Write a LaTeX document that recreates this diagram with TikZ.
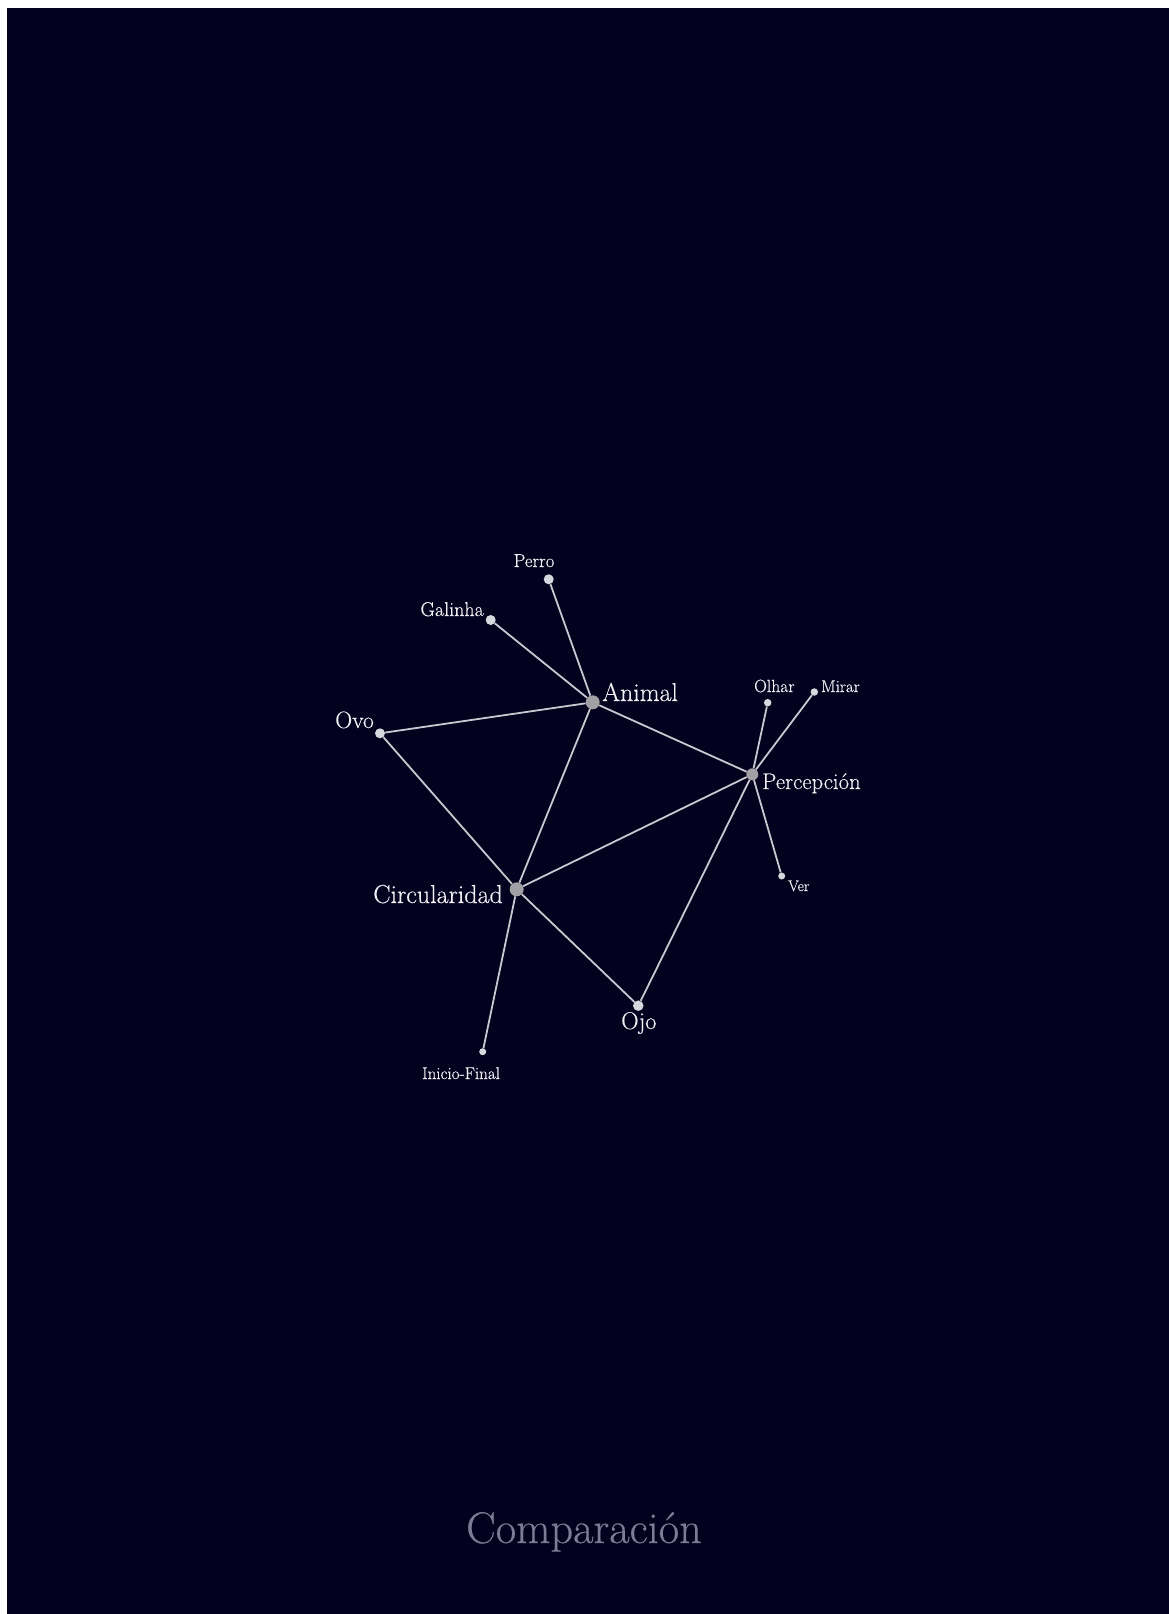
\documentclass[tikz,border=0pt]{standalone}
\usepackage{fontspec}
\setmainfont{Latin Modern Roman}[FakeBold=0.35]
\definecolor{bgnavy}{RGB}{3,1,30}
\definecolor{linegrey}{RGB}{200,200,208}
\definecolor{leafdot}{RGB}{215,215,222}
\definecolor{hubdot}{RGB}{160,160,165}
\definecolor{labelwhite}{RGB}{240,240,245}
\definecolor{titlegrey}{RGB}{124,124,148}
\tikzset{
  leaf/.style={circle,fill=leafdot,inner sep=0pt,minimum size=#1},
  hub/.style={circle,fill=hubdot,inner sep=0pt,minimum size=#1},
  lbl/.style={text=labelwhite,inner sep=0pt,font=\fontsize{#1}{#1}\selectfont},
  edge/.style={draw=linegrey,line width=1.8pt}
}
\begin{document}
\begin{tikzpicture}[x=1pt,y=-1pt]
\useasboundingbox (0,0) rectangle (1169,1614);
\fill[white] (0,0) rectangle (1169,1614);
\fill[bgnavy] (7,8) rectangle (1169,1614);

% dots
\node[leaf=10pt] (perro) at (548.7,579.3) {};
\node[leaf=10pt] (galinha) at (490.7,620) {};
\node[hub=14pt] (animal) at (592.7,702.3) {};
\node[leaf=10pt] (ovo) at (380,733.3) {};
\node[leaf=7.5pt] (olhar) at (767.7,702.7) {};
\node[leaf=7.5pt] (mirar) at (814.3,692) {};
\node[hub=12pt] (percepcion) at (752.3,774.3) {};
\node[leaf=7pt] (ver) at (781.7,876) {};
\node[hub=14pt] (circ) at (516.7,889.3) {};
\node[leaf=10.5pt] (ojo) at (638.3,1005.7) {};
\node[leaf=7pt] (inicio) at (482.7,1051.7) {};

% edges
\draw[edge] (perro) -- (animal);
\draw[edge] (galinha) -- (animal);
\draw[edge] (ovo) -- (animal);
\draw[edge] (animal) -- (circ);
\draw[edge] (animal) -- (percepcion);
\draw[edge] (ovo) -- (circ);
\draw[edge] (circ) -- (percepcion);
\draw[edge] (circ) -- (ojo);
\draw[edge] (circ) -- (inicio);
\draw[edge] (ojo) -- (percepcion);
\draw[edge] (percepcion) -- (olhar);
\draw[edge] (percepcion) -- (mirar);
\draw[edge] (percepcion) -- (ver);

% labels
\node[lbl=18.7,anchor=base] (lperro) at (534,567) {Perro};
\node[lbl=20,anchor=base east] (lgalinha) at (484,616) {Galinha};
\node[lbl=25.8,anchor=base west] (lanimal) at (602,701) {Animal};
\node[lbl=23.6,anchor=base west] (lovo) at (335,728) {Ovo};
\node[lbl=17.6,anchor=base west] (lolhar) at (754,692) {Olhar};
\node[lbl=17,anchor=base west] (lmirar) at (821,692) {Mirar};
\node[lbl=22.7,anchor=base west] (lpercepcion) at (762,789) {Percepción};
\node[lbl=15.4,anchor=base west] (lver) at (788,891) {Ver};
\node[lbl=26,anchor=base east] (lcirc) at (503,903) {Circularidad};
\node[lbl=24.2,anchor=base west] (lojo) at (621,1029) {Ojo};
\node[lbl=17,anchor=base] (linicio) at (461,1079) {Inicio-Final};
\node[text=titlegrey,inner sep=0pt,font=\fontsize{44.4}{44.4}\selectfont,anchor=base] (title) at (584,1543) {Comparación};
\end{tikzpicture}
\end{document}
